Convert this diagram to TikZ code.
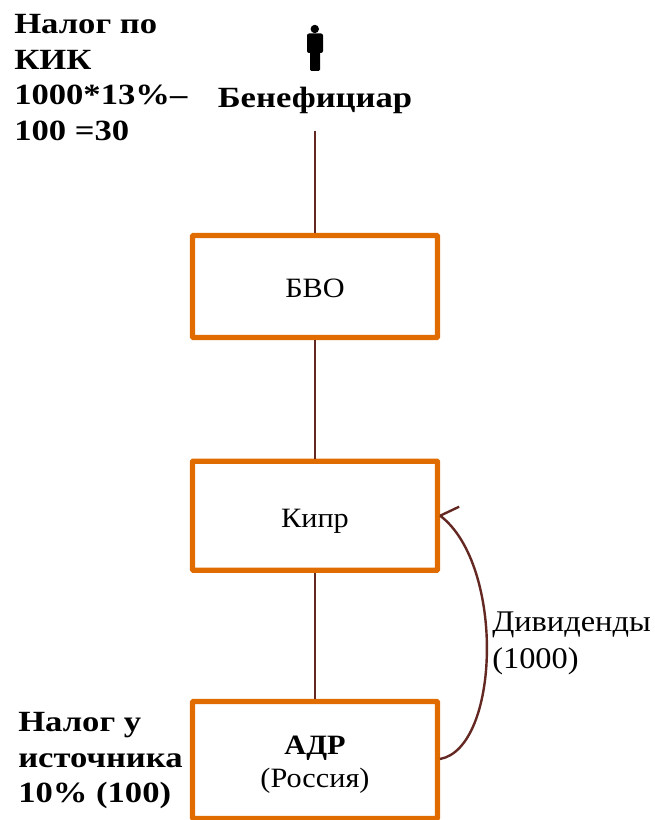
\documentclass[tikz,border=0pt]{standalone}
\usepackage{fontspec}
\setmainfont[FakeStretch=1.08]{Liberation Serif}
\newfontfamily\hdrfont[FakeStretch=1.18]{Liberation Serif Bold}
\usepackage{tikz}
\usetikzlibrary{calc,positioning,arrows}
\definecolor{boxorange}{HTML}{E06C00}
\definecolor{linkbrown}{HTML}{642822}
\begin{document}
\begin{tikzpicture}[x=0.75pt,y=-0.75pt,
    ent/.style={draw=boxorange,line width=4pt,rounded corners=0.6pt,minimum width=183.75pt,align=center,font=\fontsize{21}{25}\selectfont},
    lnk/.style={draw=linkbrown,line width=1.25pt},
    flow/.style={draw=linkbrown,line width=1.8pt},
    lbl/.style={align=left,inner sep=0pt,font=\fontsize{22.5}{27.8}\selectfont},
    hdr/.style={align=left,inner sep=0pt,font=\fontsize{22}{26.7}\hdrfont\selectfont}]
    \useasboundingbox (0,0) rectangle (654,820);
    \node[hdr,anchor=north west] (kik) at (14,14) {Налог по\\КИК\\1000*13\%–\\100 =30};
    \node[hdr,align=center,minimum height=46.5pt] (ben) at (315,100) {Бенефициар};
    \node[ent,minimum height=76.5pt] (bvo) at (315,286.5) {\raisebox{0pt}[16pt][0pt]{БВО}};
    \node[ent,minimum height=81.75pt] (cyp) at (315,515.7) {\raisebox{0pt}[18.4pt][0pt]{Кипр}};
    \node[ent,minimum height=87.75pt] (adr) at (315,760) {\raisebox{0pt}[20.7pt][0pt]{\textbf{АДР}}\\(Россия)};
    \node[hdr,anchor=north west] (src) at (18,712) {Налог у\\источника\\10\% (100)};
    \node[lbl,anchor=north west] (div) at (492,612) {Дивиденды\\(1000)};
    \coordinate (adrout) at (440,759);
    % figure of the beneficiary
    \fill[black,rounded corners=1.5pt] (307,33.5) rectangle (323,53);
    \fill[black,rounded corners=1pt] (310,45) rectangle (320,71);
    \fill[black] (314.8,29) circle (4.2);
    \draw[lnk] (ben) -- (bvo);
    \draw[lnk] (bvo) -- (cyp);
    \draw[lnk] (cyp) -- (adr);
    \draw[flow] (adrout) .. controls (500,748) and (505,565) .. (cyp.east);
    \draw[flow] (cyp.east) -- ++(19,-9);
\end{tikzpicture}
\end{document}
